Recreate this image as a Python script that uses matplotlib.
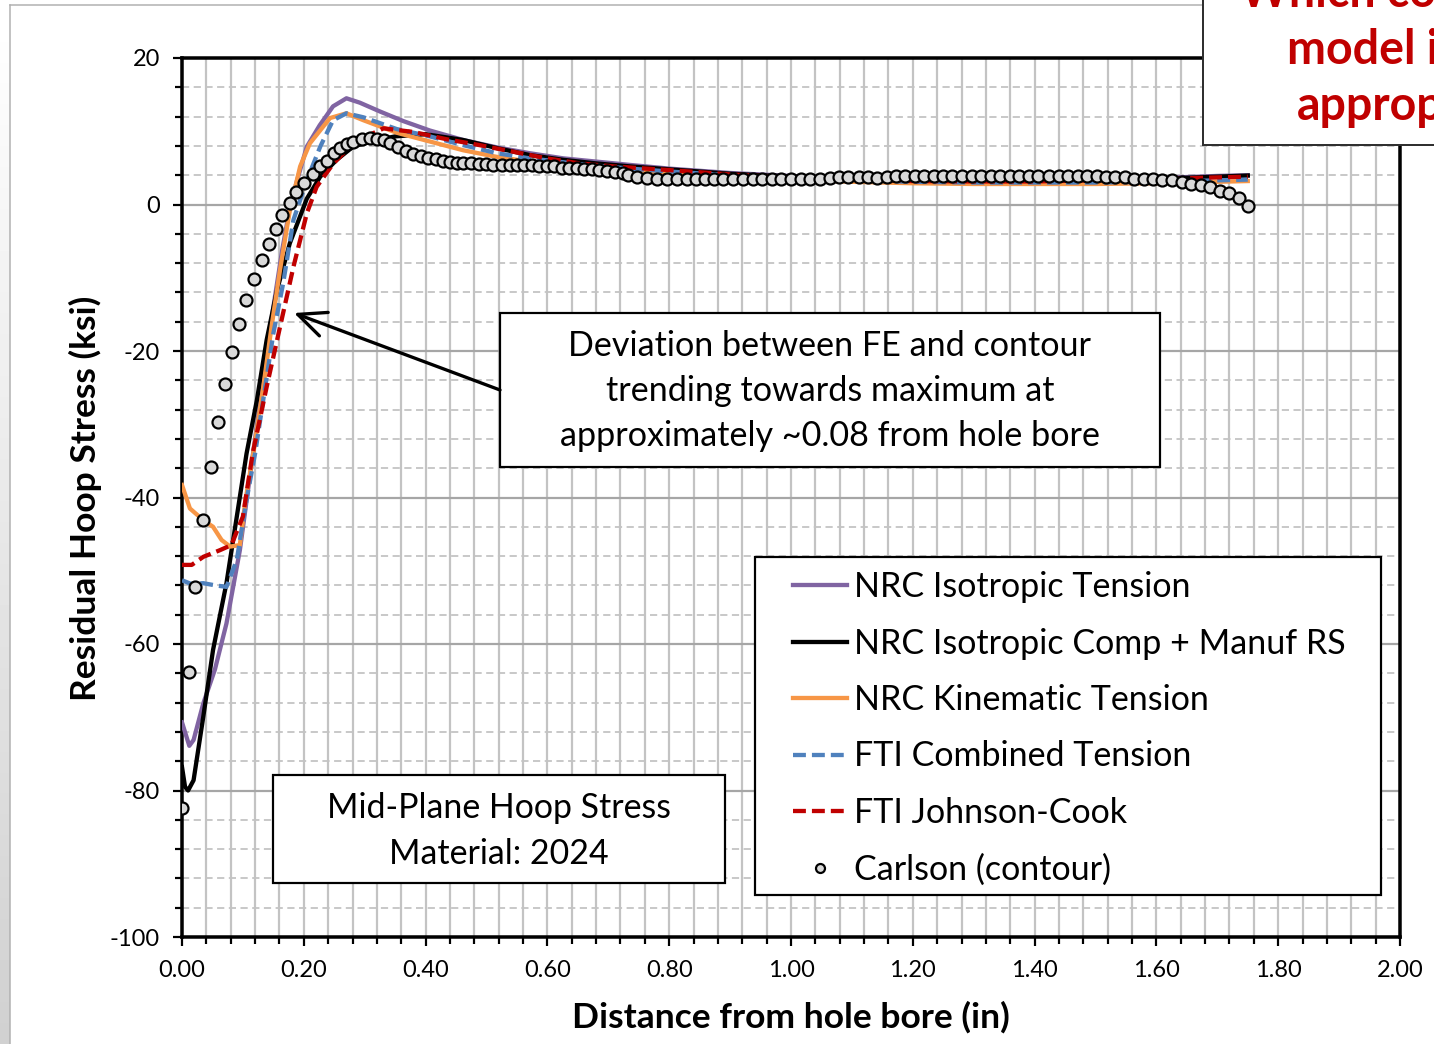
import numpy as np
import matplotlib.pyplot as plt
from matplotlib.patches import Rectangle, FancyArrowPatch
from matplotlib.lines import Line2D
from matplotlib.ticker import MultipleLocator, FormatStrFormatter

# ------------------------------------------------------------
# Data (x in inches, stress in ksi)
# ------------------------------------------------------------
iso_x = [0.000, 0.012, 0.019, 0.035, 0.054, 0.073, 0.095, 0.110, 0.130, 0.150,
         0.165, 0.177, 0.188, 0.205, 0.226, 0.248, 0.270, 0.292, 0.325, 0.363,
         0.407, 0.462, 0.517, 0.571, 0.626, 0.681, 0.736, 0.80, 0.90, 1.00,
         1.10, 1.20, 1.30, 1.40, 1.50, 1.60, 1.70, 1.75]
iso_y = [-70.7, -73.9, -73.1, -68.1, -63.5, -57.2, -47.2, -38.0, -26.0, -14.0,
         -6.0, -0.5, 3.0, 7.9, 10.8, 13.4, 14.5, 13.9, 12.7, 11.4,
         10.1, 8.8, 7.8, 7.0, 6.3, 5.85, 5.4, 4.9, 4.3, 3.9,
         3.6, 3.45, 3.35, 3.35, 3.45, 3.6, 3.9, 4.0]

comp_x = [0.000, 0.005, 0.010, 0.019, 0.035, 0.051, 0.073, 0.090, 0.106, 0.123,
          0.139, 0.156, 0.177, 0.205, 0.227, 0.254, 0.281, 0.314, 0.350, 0.400,
          0.462, 0.517, 0.571, 0.626, 0.681, 0.736, 0.80, 0.90, 1.00, 1.10,
          1.20, 1.30, 1.40, 1.50, 1.60, 1.70, 1.75]
comp_y = [-76.8, -79.5, -80.0, -78.6, -69.9, -60.8, -51.7, -42.6, -34.0, -26.7,
          -18.5, -11.7, -5.3, 0.8, 3.8, 6.1, 7.9, 8.7, 9.3, 9.6,
          8.8, 7.7, 6.75, 6.1, 5.6, 5.2, 4.8, 4.2, 3.8, 3.5,
          3.3, 3.2, 3.2, 3.3, 3.5, 3.8, 3.95]

kin_x = [0.000, 0.013, 0.035, 0.051, 0.065, 0.079, 0.095, 0.104, 0.117, 0.1335,
         0.147, 0.161, 0.177, 0.194, 0.210, 0.243, 0.270, 0.298, 0.3525, 0.407,
         0.462, 0.517, 0.571, 0.654, 0.736, 0.80, 0.90, 1.00, 1.10, 1.20,
         1.30, 1.40, 1.50, 1.60, 1.70, 1.75]
kin_y = [-38.3, -41.5, -43.1, -44.0, -45.8, -46.7, -46.5, -40.5, -34.0, -24.9,
         -16.7, -8.9, -0.8, 5.2, 8.35, 11.8, 12.45, 11.5, 9.8, 8.6,
         7.4, 6.5, 5.85, 5.2, 4.7, 4.3, 3.8, 3.4, 3.1, 2.9,
         2.8, 2.8, 2.8, 2.9, 3.1, 3.2]

fti_x = [0.000, 0.015, 0.035, 0.055, 0.073, 0.090, 0.106, 0.120, 0.150, 0.166,
         0.183, 0.205, 0.227, 0.248, 0.270, 0.298, 0.3525, 0.407, 0.462, 0.517,
         0.571, 0.654, 0.736, 0.80, 0.90, 1.00, 1.10, 1.20, 1.30, 1.40,
         1.50, 1.60, 1.70, 1.75]
fti_y = [-51.3, -51.8, -51.7, -52.0, -52.2, -48.5, -40.3, -34.0, -17.6, -10.8,
         -2.1, 3.3, 7.9, 11.5, 12.45, 11.9, 10.3, 9.3, 8.1, 7.0,
         6.3, 5.5, 4.9, 4.5, 4.0, 3.6, 3.3, 3.1, 3.0, 3.0,
         3.0, 3.1, 3.3, 3.4]

jc_x = [0.000, 0.016, 0.035, 0.062, 0.081, 0.100, 0.116, 0.139, 0.161, 0.183,
        0.205, 0.221, 0.2485, 0.276, 0.303, 0.331, 0.380, 0.435, 0.489, 0.544,
        0.599, 0.654, 0.708, 0.80, 0.90, 1.00, 1.10, 1.20, 1.30, 1.40,
        1.50, 1.60, 1.70, 1.75]
jc_y = [-49.2, -49.2, -48.1, -47.2, -46.5, -42.6, -34.0, -24.9, -16.7, -8.5,
        -1.2, 2.4, 5.6, 7.9, 9.3, 10.4, 9.9, 8.9, 8.1, 7.2,
        6.3, 5.6, 5.2, 4.7, 4.1, 3.7, 3.4, 3.2, 3.15, 3.15,
        3.3, 3.45, 3.7, 3.8]

# Carlson contour measurement
contour_x = [0.000, 0.012, 0.021, 0.035, 0.048, 0.059, 0.071, 0.082, 0.094, 0.105,
             0.118, 0.131, 0.143, 0.154, 0.165, 0.177, 0.188, 0.201, 0.215, 0.226,
             0.238, 0.249, 0.259, 0.271, 0.281, 0.295, 0.308, 0.320, 0.331, 0.342,
             0.355, 0.368, 0.380, 0.392, 0.404, 0.417, 0.429, 0.440, 0.451, 0.462,
             0.474, 0.487, 0.499, 0.511, 0.525, 0.538, 0.550, 0.562, 0.574, 0.587,
             0.599, 0.611, 0.624, 0.636, 0.648, 0.660, 0.673, 0.685, 0.698, 0.711,
             0.724, 0.733, 0.747, 0.763, 0.780, 0.796, 0.812, 0.829, 0.844, 0.859,
             0.874, 0.889, 0.905, 0.921, 0.937, 0.952, 0.968, 0.984, 1.000, 1.016,
             1.031, 1.048, 1.064, 1.079, 1.094, 1.111, 1.126, 1.142, 1.157, 1.172,
             1.188, 1.204, 1.219, 1.234, 1.249, 1.265, 1.280, 1.297, 1.312, 1.328,
             1.343, 1.359, 1.374, 1.391, 1.406, 1.424, 1.440, 1.455, 1.471, 1.486,
             1.502, 1.517, 1.532, 1.548, 1.564, 1.579, 1.595, 1.610, 1.626, 1.642,
             1.657, 1.673, 1.688, 1.704, 1.720, 1.736, 1.751]
contour_y = [-82.4, -63.8, -52.2, -43.1, -35.8, -29.7, -24.5, -20.1, -16.3, -13.1,
             -10.2, -7.6, -5.4, -3.3, -1.5, 0.2, 1.7, 3.0, 4.1, 5.2,
             6.0, 7.0, 7.7, 8.3, 8.6, 8.9, 9.1, 9.0, 8.8, 8.4,
             7.8, 7.3, 6.9, 6.6, 6.4, 6.2, 6.0, 5.8, 5.7, 5.6,
             5.6, 5.5, 5.5, 5.4, 5.4, 5.4, 5.35, 5.35, 5.35, 5.3,
             5.2, 5.2, 5.0, 5.0, 5.0, 4.9, 4.8, 4.7, 4.6, 4.5,
             4.3, 4.0, 3.7, 3.6, 3.5, 3.45, 3.45, 3.45, 3.45, 3.45,
             3.45, 3.45, 3.45, 3.45, 3.45, 3.45, 3.45, 3.45, 3.45, 3.45,
             3.45, 3.45, 3.65, 3.7, 3.7, 3.7, 3.7, 3.65, 3.7, 3.95,
             3.95, 3.95, 3.9, 3.9, 3.9, 3.9, 3.9, 3.9, 3.9, 3.9,
             3.9, 3.9, 3.9, 3.9, 3.9, 3.9, 3.9, 3.9, 3.9, 3.9,
             3.9, 3.8, 3.7, 3.7, 3.5, 3.5, 3.5, 3.3, 3.3, 3.1,
             2.85, 2.6, 2.35, 1.9, 1.6, 0.9, -0.2]

labels = ["NRC Isotropic Tension", "NRC Isotropic Comp + Manuf RS",
          "NRC Kinematic Tension", "FTI Combined Tension",
          "FTI Johnson-Cook", "Carlson (contour)"]

# ------------------------------------------------------------
# Figure setup (pixel based layout)
# ------------------------------------------------------------
W, H, DPI = 1434, 1044, 100
PT = 72 / DPI  # points per pixel

plt.rcParams['font.family'] = ['Lato', 'DejaVu Sans']
plt.rcParams['axes.unicode_minus'] = False


def fx(px):
    return px / W


def fy(py):
    return 1 - py / H


fig = plt.figure(figsize=(W / DPI, H / DPI), dpi=DPI)
fig.patch.set_facecolor('white')

# slide background strip on the left
strip = fig.add_axes([0, 0, fx(10), 1])
strip.imshow(np.linspace(1.0, 0.82, 50).reshape(-1, 1), cmap='gray', vmin=0, vmax=1,
             aspect='auto', extent=[0, 1, 0, 1])
strip.set_axis_off()

ax = fig.add_axes([fx(182), fy(937), fx(1400) - fx(182), fy(58) - fy(937)])
ax.set_xlim(0, 2.0)
ax.set_ylim(-100, 20)

lw_line = 4.3 * PT
dash = (0, (3.0, 1.4))
h1, = ax.plot(iso_x, iso_y, color='#8064A2', lw=lw_line, zorder=3)
h2, = ax.plot(comp_x, comp_y, color='black', lw=lw_line, zorder=3)
h3, = ax.plot(kin_x, kin_y, color='#F79646', lw=lw_line, zorder=3)
h4, = ax.plot(fti_x, fti_y, color='#4F81BD', lw=lw_line, ls=dash, zorder=3)
h5, = ax.plot(jc_x, jc_y, color='#C00000', lw=lw_line, ls=dash, zorder=3)
h6, = ax.plot(contour_x, contour_y, ls='none', marker='o', ms=12 * PT,
              mfc='#d9d9d9', mec='black', mew=2.2 * PT, zorder=4)

# grid + ticks
ax.xaxis.set_major_locator(MultipleLocator(0.2))
ax.xaxis.set_minor_locator(MultipleLocator(0.04))
ax.yaxis.set_major_locator(MultipleLocator(20))
ax.yaxis.set_minor_locator(MultipleLocator(4))
ax.xaxis.set_major_formatter(FormatStrFormatter('%.2f'))
ax.set_axisbelow(True)
ax.grid(which='both', axis='x', color='#c3c3c3', lw=2.2 * PT)
ax.grid(which='major', axis='y', color='#a6a6a6', lw=2.2 * PT)
ax.grid(which='minor', axis='y', color='#c3c3c3', lw=1.8 * PT, ls=(0, (4, 2.5)))

for sp in ax.spines.values():
    sp.set_linewidth(3.5 * PT)
    sp.set_color('black')
ax.tick_params(which='major', direction='out', length=9 * PT, width=2.2 * PT,
               labelsize=17, color='black')
ax.tick_params(which='minor', direction='out', length=7 * PT, width=2.2 * PT,
               color='black')
ax.tick_params(axis='x', pad=14 * PT)
ax.tick_params(axis='y', pad=13 * PT)

# axis labels
fig.text(fx(85), fy(498), "Residual Hoop Stress (ksi)", rotation=90,
         ha='center', va='center', fontsize=25.5, fontweight='bold')
fig.text(fx(791), fy(1017), "Distance from hole bore (in)",
         ha='center', va='center', fontsize=25.5, fontweight='bold')

# ------------------------------------------------------------
# Boxes, annotations and legend
# ------------------------------------------------------------
def box(x0, y0, x1, y1, lw=2.2, ec='black'):
    r = Rectangle((fx(x0), fy(y1)), fx(x1) - fx(x0), fy(y0) - fy(y1),
                  transform=fig.transFigure, facecolor='white', edgecolor=ec,
                  lw=lw * PT, zorder=5)
    fig.patches.append(r)


box(500, 313, 1160, 467)
fig.text(fx(830), fy(391), "Deviation between FE and contour\n"
         "trending towards maximum at\napproximately ~0.08 from hole bore",
         ha='center', va='center', fontsize=24.6, linespacing=1.5, zorder=6)

arrow = FancyArrowPatch((fx(500), fy(390)), (fx(294), fy(313)),
                        transform=fig.transFigure,
                        arrowstyle='->,head_length=1.0,head_width=0.45',
                        mutation_scale=20, lw=3.3 * PT, color='black',
                        zorder=6, shrinkA=0, shrinkB=0)
fig.patches.append(arrow)

box(273, 775, 725, 883)
fig.text(fx(499), fy(831), "Mid-Plane Hoop Stress\nMaterial: 2024",
         ha='center', va='center', fontsize=24.4, linespacing=1.5, zorder=6)

box(755, 557, 1381, 895)
leg = fig.legend([h1, h2, h3, h4, h5, h6], labels, loc='upper left',
                 bbox_to_anchor=(fx(793), fy(571)), bbox_transform=fig.transFigure,
                 frameon=False, fontsize=24.5, handlelength=1.6, handletextpad=0.2,
                 labelspacing=0.72, borderpad=0, borderaxespad=0, markerscale=0.75)
leg.set_zorder(7)

# slide frame lines
fig.lines.append(Line2D([fx(10), fx(10)], [fy(5), 0], transform=fig.transFigure,
                        color='#b0b0b0', lw=1.5 * PT))
fig.lines.append(Line2D([fx(10), 1], [fy(5), fy(5)], transform=fig.transFigure,
                        color='#b0b0b0', lw=1.5 * PT))

# question box top right (cut off by the slide edge)
box(1203, -20, 1600, 145, lw=2.0, ec='#303030')
red_lines = [("Which constitutive", 1240, -7), ("model is most", 1287, 50),
             ("appropriate?", 1297, 106)]
for txt, px0, py0 in red_lines:
    fig.text(fx(px0), fy(py0), txt, ha='left', va='center', fontsize=33.5,
             fontweight='bold', color='#C00000', zorder=6)

fig.savefig("out.png", dpi=DPI)
